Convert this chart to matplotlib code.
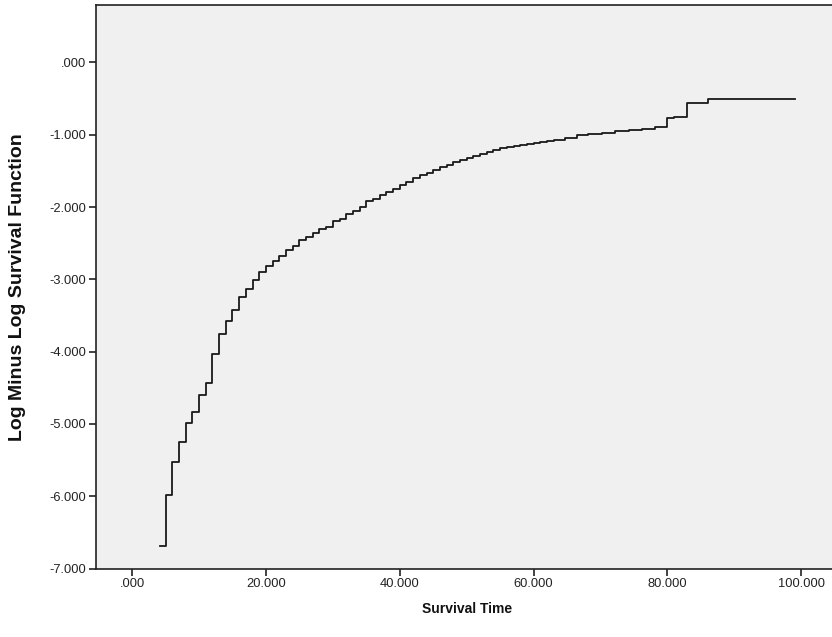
import matplotlib
matplotlib.use("Agg")
import matplotlib.pyplot as plt
from matplotlib.ticker import FuncFormatter
from matplotlib import font_manager

# Step times (event times) and log-minus-log survival values after each step
times = [4.2, 5, 6, 7, 8, 9, 10, 11, 12, 13, 14, 15, 16, 17, 18, 19, 20,
         21, 22, 23, 24, 25, 26, 27, 28, 29, 30, 31, 32, 33, 34, 35, 36,
         37, 38, 39, 40, 41, 42, 43, 44, 45, 46, 47, 48, 49, 50, 51, 52,
         53, 54, 55, 56, 57, 58, 59, 60, 61, 62, 63, 64.7, 66.5, 68.2,
         70.2, 72.2, 74.2, 76.2, 78.2, 80.0, 81.0, 83.0, 86.1, 99.1]
lml = [-6.69, -5.98, -5.53, -5.25, -4.99, -4.83, -4.60, -4.43, -4.03, -3.76,
       -3.57, -3.42, -3.24, -3.13, -3.01, -2.90, -2.82, -2.74, -2.68, -2.60,
       -2.54, -2.45, -2.41, -2.36, -2.30, -2.27, -2.19, -2.16, -2.09, -2.06,
       -2.00, -1.92, -1.89, -1.83, -1.79, -1.75, -1.70, -1.65, -1.60, -1.56,
       -1.53, -1.49, -1.45, -1.42, -1.38, -1.35, -1.32, -1.29, -1.27, -1.24,
       -1.21, -1.19, -1.17, -1.15, -1.14, -1.13, -1.11, -1.10, -1.085, -1.075,
       -1.04, -1.01, -0.99, -0.97, -0.955, -0.94, -0.925, -0.90, -0.77, -0.75,
       -0.566, -0.506, -0.506]

x_ticks = [0, 20, 40, 60, 80, 100]
y_ticks = [0, -1, -2, -3, -4, -5, -6, -7]
x_label = "Survival Time"
y_label = "Log Minus Log Survival Function"

plt.rcParams['font.family'] = ['Liberation Sans', 'DejaVu Sans']
installed = {f.name for f in font_manager.fontManager.ttflist}
narrow = 'Liberation Sans Narrow' if 'Liberation Sans Narrow' in installed else 'Liberation Sans'
tick_size = 10.5 if narrow != 'Liberation Sans' else 9.3
xl_size = 12 if narrow != 'Liberation Sans' else 10

W, H = 832, 637
fig = plt.figure(figsize=(W / 100, H / 100), dpi=100)
ax = fig.add_axes([96 / W, 1 - 568.5 / H, 1 - 96 / W, (568.5 - 5) / H])
ax.set_facecolor('#f0f0f0')

ax.step(times, lml, where='post', color='#1a1a1a', linewidth=1.3)

ax.set_xlim(-5.4, 104.6)
ax.set_ylim(-7.0, 0.794)
ax.set_xticks(x_ticks)
ax.set_yticks(y_ticks)


def fmt(v, pos=None):
    s = f"{v:.3f}"
    if s.startswith("0."):
        s = s[1:]
    if s == "-0.000":
        s = ".000"
    return s


ax.xaxis.set_major_formatter(FuncFormatter(fmt))
ax.yaxis.set_major_formatter(FuncFormatter(fmt))
ax.tick_params(axis='both', direction='out', length=5, width=1.2,
               colors='#222222', labelsize=tick_size, pad=2)
for lab in ax.get_xticklabels() + ax.get_yticklabels():
    lab.set_family([narrow, 'DejaVu Sans'])

for side in ['left', 'bottom', 'top']:
    ax.spines[side].set_color('#222222')
    ax.spines[side].set_linewidth(1.2)
ax.spines['right'].set_visible(False)

fig.text(467 / W, 1 - 609 / H, x_label, fontsize=xl_size, fontweight='bold',
         family=[narrow, 'DejaVu Sans'],
         ha='center', va='center', color='#111111')
fig.text(18 / W, 1 - 287 / H, y_label, fontsize=14, fontweight='bold',
         ha='center', va='center', rotation=90, color='#111111')

fig.savefig("out.png", dpi=100, facecolor='white')
